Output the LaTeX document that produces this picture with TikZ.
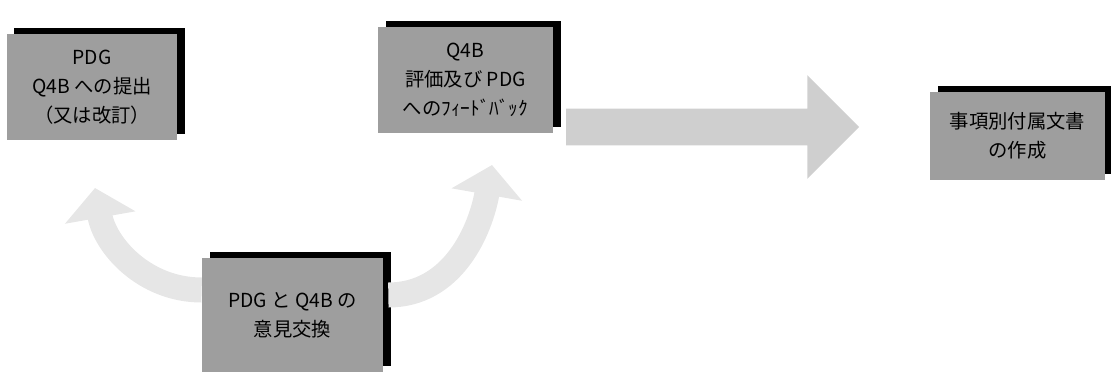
\documentclass[tikz,border=0pt]{standalone}
\usepackage{xcolor}
\usepackage{fontspec}
\usepackage{tikz}
\usetikzlibrary{shapes.arrows, arrows.meta, positioning, shadows, calc}
\newfontfamily\jpfont{Noto Sans CJK JP}
\definecolor{boxgray}{HTML}{9E9E9E}
\definecolor{flowgray}{HTML}{CFCFCF}
\definecolor{loopgray}{HTML}{E6E6E6}
\tikzset{
  stagebox/.style={
    rectangle, fill=boxgray,
    minimum width=3.5cm, minimum height=2.12cm,
    text centered, align=center, inner sep=2pt,
    font=\jpfont\fontsize{11}{16.5}\selectfont,
    drop shadow={shadow xshift=0.15cm, shadow yshift=0.12cm, fill=black, opacity=1},
  },
  bigflow/.style={
    single arrow, fill=flowgray,
    inner xsep=0pt, inner ysep=0.36cm,
    minimum height=5.86cm,
    single arrow head extend=0.67cm,
  },
  loop/.style={
    line width=0.5cm, color=loopgray,
    -{Triangle[width=1.4cm, length=0.6cm]},
  },
}
\begin{document}
\begin{tikzpicture}
  \useasboundingbox (0,0) rectangle (22.22,7.52);

  \node[stagebox, minimum width=3.4cm] (submit) at (1.84,5.78) {PDG\\Q4B への提出\\（又は改訂）};
  \node[stagebox] (review) at (9.31,5.92) {Q4B\\評価及び PDG\\へのﾌｨｰﾄﾞﾊﾞｯｸ};
  \node[stagebox, minimum height=1.76cm] (annex) at (20.35,4.8) {事項別付属文書\\の作成};
  \node[stagebox, minimum width=3.62cm, minimum height=2.28cm] (talk) at (5.85,1.22) {PDG と Q4B の\\意見交換};

  \node[bigflow] (flow) at (14.07,4.98) {};

  \coordinate (backtip) at (1.9,3.76);
  \coordinate (uptip) at (9.84,4.22);
  \draw[loop] ($(talk.west)+(0,0.5)$) to[out=180, in=-80] (backtip);
  \draw[loop] ($(talk.east)+(0.1,0.4)$) to[out=0, in=-100] (uptip);

\end{tikzpicture}
\end{document}
